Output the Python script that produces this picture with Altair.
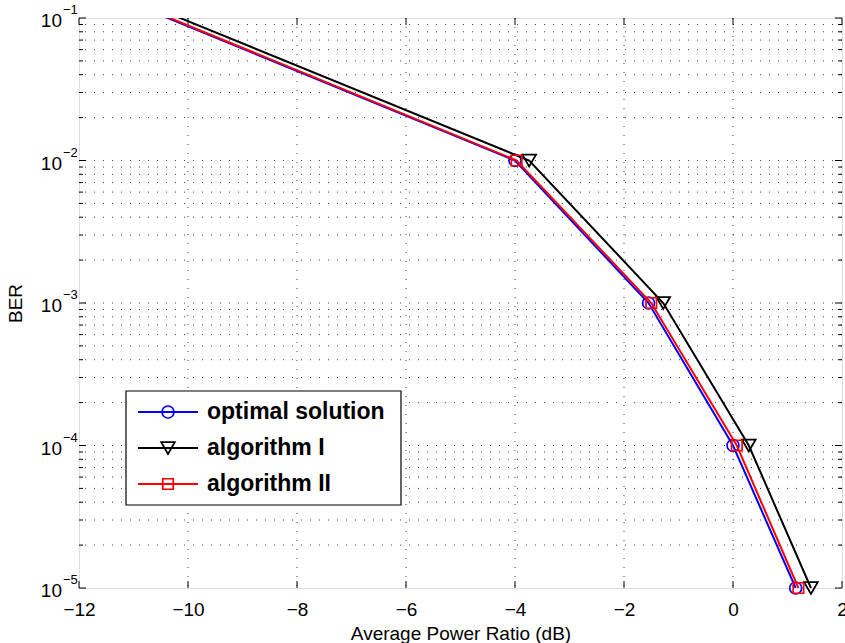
import altair as alt
import pandas as pd

# Average power ratio (dB) needed by each scheme for the BER targets below.
# The first sample sits left of the plotted window and is clipped away.
opt_x = [-12.0, -4.0, -1.55, 0.0, 1.15]
opt_ber = [0.180, 1e-2, 1e-3, 1e-4, 1e-5]

alg1_x = [-12.0, -3.74, -1.28, 0.29, 1.43]
alg1_ber = [0.195, 1e-2, 1e-3, 1e-4, 1e-5]

alg2_x = [-12.0, -3.97, -1.50, 0.07, 1.20]
alg2_ber = [0.183, 1e-2, 1e-3, 1e-4, 1e-5]

series = ["optimal solution", "algorithm I", "algorithm II"]
series_x = [opt_x, alg1_x, alg2_x]
series_ber = [opt_ber, alg1_ber, alg2_ber]
colors = ["#0000ff", "#000000", "#ff0000"]
shapes = ["circle", "triangle-down", "square"]
sizes = [144, 190, 110]

x_ticks = [-12, -10, -8, -6, -4, -2, 0, 2]
y_major = [1e-5, 1e-4, 1e-3, 1e-2, 1e-1]
y_exp = ["\u22125", "\u22124", "\u22123", "\u22122", "\u22121"]
y_minor = [m * 10.0 ** e for e in range(-5, -1) for m in range(2, 10)]

W, H = 763, 570
FONT = "Liberation Sans"

xs = alt.Scale(domain=[-12, 2], nice=False, zero=False)
ys = alt.Scale(type="log", domain=[1e-5, 1e-1], nice=False)

x_axis = alt.Axis(
    values=x_ticks, format="d", ticks=False, domain=False, grid=False,
    labelFont=FONT, labelFontSize=19, labelColor="black", labelPadding=12,
    labelFlush=False, labelOverlap=False,
    title="Average Power Ratio (dB)", titleFont=FONT, titleFontSize=19,
    titleFontWeight="normal", titleColor="black", titlePadding=5,
)
y_axis = alt.Axis(
    labels=False, ticks=False, domain=False, grid=False,
    title="BER", titleFont=FONT, titleFontSize=19, titleFontWeight="normal",
    titleColor="black", titlePadding=54,
)


def X(field):
    return alt.X(field, type="quantitative", scale=xs, axis=x_axis)


def Y(field):
    return alt.Y(field, type="quantitative", scale=ys, axis=y_axis)


layers = []

# dotted grid: vertical at the major x ticks, horizontal at every log tick
grid_style = dict(color="black", strokeWidth=1, strokeDash=[1, 8], opacity=0.75)
layers.append(
    alt.Chart(pd.DataFrame({"v": x_ticks[1:-1]})).mark_rule(**grid_style).encode(x=X("v"))
)
layers.append(
    alt.Chart(pd.DataFrame({"v": y_minor + y_major[1:-1]})).mark_rule(**grid_style).encode(y=Y("v"))
)

# inward ticks on all four sides of the box
tick_style = dict(color="black", strokeWidth=1)
xt = alt.Chart(pd.DataFrame({"v": x_ticks})).mark_rule(**tick_style)
layers.append(xt.encode(x=X("v"), y=alt.value(H), y2=alt.value(H - 7)))
layers.append(xt.encode(x=X("v"), y=alt.value(0), y2=alt.value(7)))
ytm = alt.Chart(pd.DataFrame({"v": y_major})).mark_rule(**tick_style)
layers.append(ytm.encode(y=Y("v"), x=alt.value(0), x2=alt.value(7)))
layers.append(ytm.encode(y=Y("v"), x=alt.value(W - 7), x2=alt.value(W)))
ytn = alt.Chart(pd.DataFrame({"v": y_minor})).mark_rule(**tick_style)
layers.append(ytn.encode(y=Y("v"), x=alt.value(0), x2=alt.value(4)))
layers.append(ytn.encode(y=Y("v"), x=alt.value(W - 4), x2=alt.value(W)))

# y tick labels as 10 with a raised exponent
ylab = alt.Chart(pd.DataFrame({"v": y_major, "exp": y_exp}))
layers.append(
    ylab.mark_text(align="right", baseline="middle", font=FONT, fontSize=19, dy=3, color="black")
    .encode(y=Y("v"), x=alt.value(-17), text=alt.value("10"))
)
layers.append(
    ylab.mark_text(align="left", baseline="middle", font=FONT, fontSize=13, dy=-8, color="black")
    .encode(y=Y("v"), x=alt.value(-16), text="exp:N")
)

# the three BER curves with hollow markers
for name, xv, bv, c, shp, sz in zip(series, series_x, series_ber, colors, shapes, sizes):
    df = pd.DataFrame({"x": xv, "ber": bv, "series": name})
    base = alt.Chart(df)
    layers.append(base.mark_line(color=c, strokeWidth=2, clip=True).encode(x=X("x"), y=Y("ber")))
    layers.append(
        base.transform_filter("datum.ber <= 0.1")
        .mark_point(shape=shp, size=sz, filled=False, color=c, strokeWidth=1.7, opacity=1)
        .encode(x=X("x"), y=Y("ber"))
    )

# legend box
one = pd.DataFrame({"k": [0]})
layers.append(
    alt.Chart(one).mark_rect(fill="white", stroke="black", strokeWidth=1.2)
    .encode(x=alt.value(47), x2=alt.value(322), y=alt.value(373), y2=alt.value(487))
)
for i, (name, c, shp, sz) in enumerate(zip(series, colors, shapes, sizes)):
    row_y = 394 + 36 * i
    entry = alt.Chart(pd.DataFrame({"label": [name]}))
    layers.append(
        entry.mark_rule(color=c, strokeWidth=2)
        .encode(x=alt.value(59), x2=alt.value(119), y=alt.value(row_y))
    )
    layers.append(
        entry.mark_point(shape=shp, size=sz, filled=False, color=c, strokeWidth=1.7, opacity=1)
        .encode(x=alt.value(89), y=alt.value(row_y))
    )
    layers.append(
        entry.mark_text(align="left", baseline="middle", font=FONT, fontSize=23,
                        fontWeight="bold", color="black")
        .encode(x=alt.value(128), y=alt.value(row_y), text="label:N")
    )

chart = (
    alt.layer(*layers)
    .properties(
        width=W, height=H,
        padding={"left": 79, "top": 18, "right": 3, "bottom": 55},
        autosize=alt.AutoSizeParams(type="none"),
    )
    .configure_view(stroke="black", strokeWidth=1.2)
    .configure(font=FONT, background="white")
)

chart.save("out.html", embed_options={"renderer": "svg", "actions": False})
